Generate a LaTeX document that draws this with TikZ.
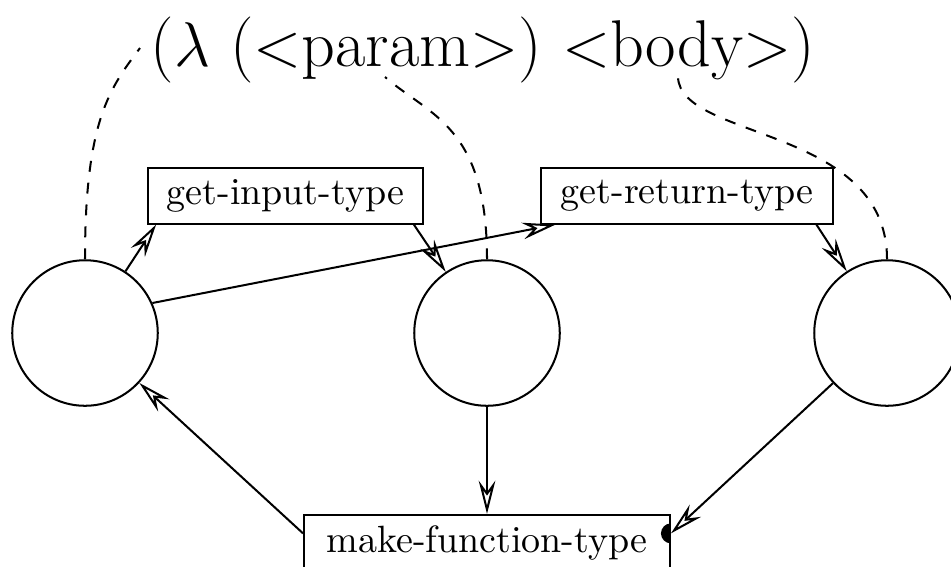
\documentclass[tikz,border=0pt]{standalone}
\usepackage{tikz}
\usetikzlibrary{arrows.meta,positioning}

\begin{document}
\begin{tikzpicture}[x=0.962cm, y=0.962cm, line width=0.55pt,
    fn/.style={draw, minimum height=0.53cm, inner sep=0pt, font=\fontsize{10.4}{12}\selectfont},
    val/.style={draw, circle, minimum size=1.40cm},
    arr/.style={-{Stealth[open, length=3.2mm, width=1.6mm, inset=1.1mm]}},
    link/.style={dashed}]
    \useasboundingbox (0,0) rectangle (9.51,5.66);
    % the expression
    \node[font=\fontsize{18.1}{22}\selectfont] (code) at (4.83,5.16) {($\lambda$ ($<$param$>$) $<$body$>$)};
    \coordinate (lam) at (1.40,5.18);
    \coordinate (prm) at (3.85,4.89);
    \coordinate (bdy) at (6.78,4.89);
    % type functions
    \node[fn, minimum width=2.65cm] (in) at (2.855,3.70) {get-input-type};
    \node[fn, minimum width=2.81cm] (ret) at (6.87,3.70) {get-return-type};
    \node[fn, minimum width=3.52cm, minimum height=0.54cm] (mk) at (4.87,0.23) {make-function-type};
    % values
    \node[val] (c1) at (0.85,2.33) {};
    \node[val] (c2) at (4.87,2.33) {};
    \node[val] (c3) at (8.87,2.33) {};
    \draw[link] (c1.north) .. controls (0.85,4.46) and (1.10,4.78) .. (lam);
    \draw[link] (c2.north) .. controls (4.87,4.40) and (4.30,4.50) .. (prm);
    \draw[link] (c3.north) .. controls (8.87,4.40) and (6.80,4.26) .. (bdy);
    \draw[arr] (c1) -- ([xshift=0.09cm]in.south west);
    \draw[arr] ([xshift=-0.1cm]in.south east) -- (c2);
    \draw[arr] (c1.24) -- ([xshift=0.15cm]ret.south west);
    \draw[arr] ([xshift=-0.17cm]ret.south east) -- (c3);
    \draw[arr] (c2) -- (mk);
    \draw[arr] (mk.177) -- (c1);
    \draw[arr] (c3) -- (mk.3);
    \fill (mk.3) ++(0,0.1) arc[start angle=90, end angle=270, radius=0.1];
\end{tikzpicture}
\end{document}
